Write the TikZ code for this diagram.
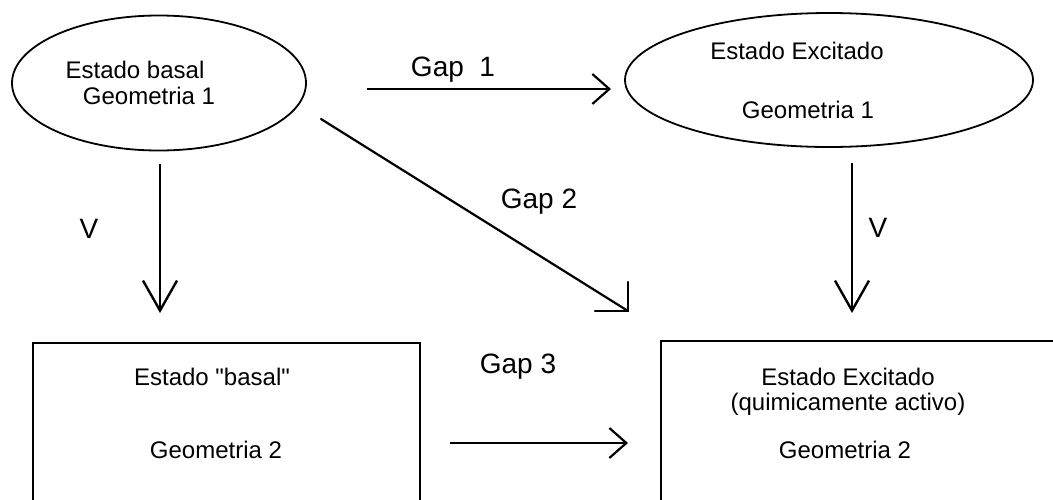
\documentclass[tikz,border=0pt]{standalone}
\usepackage{fontspec}
\setmainfont{Liberation Sans}
\newfontfamily\qfont{Liberation Sans}[Ligatures=ResetAll]
\usetikzlibrary{shapes.geometric,arrows.meta}
\begin{document}
\begin{tikzpicture}[x=1pt,y=-1pt,
  every node/.style={inner sep=0pt},
  body/.style={anchor=base,font=\fontsize{24}{28}\selectfont},
  biglbl/.style={anchor=base,font=\fontsize{28}{32}\selectfont},
  oval/.style={draw,ellipse,line width=1.8pt},
  frame/.style={draw,rectangle,line width=2.4pt,anchor=north west},
  arr/.style={line width=2.2pt,-{Straight Barb[length=17pt,width=30pt,line width=2.2pt]}},
  varr/.style={line width=2.2pt,-{Straight Barb[length=30pt,width=34pt,line width=2.4pt]}},
  plain/.style={line width=2.2pt,line cap=round}]
\useasboundingbox (0,0) rectangle (1053,499);
\clip (0,0) rectangle (1053,499);
\node[oval,minimum width=294pt,minimum height=135pt] (e1) at (159,83) {};
\node[oval,minimum width=408pt,minimum height=134pt] (e2) at (829,80) {};
\node[frame,minimum width=387pt,minimum height=200pt] (b1) at (32,342) {};
\node[frame,minimum width=440pt,minimum height=200pt] (b2) at (660,340) {};
% texts
\node[body] (t1) at (135,78) {Estado basal};
\node[body] (t2) at (149,104) {Geometria 1};
\node[body] (t3) at (797,59) {Estado Excitado};
\node[body] (t4) at (808,118) {Geometria 1};
\node[body] (t5) at (212,385) {Estado {\qfont "}basal{\qfont "}};
\node[body] (t6) at (216,458) {Geometria 2};
\node[body] (t7) at (848,385) {Estado Excitado};
\node[body] (t8) at (848,410) {(quimicamente activo)};
\node[body] (t9) at (845,458) {Geometria 2};
% labels
\node[biglbl] (g1) at (453,76) {Gap\ \ 1};
\node[biglbl] (g2) at (539,208) {Gap 2};
\node[biglbl] (g3) at (518,373) {Gap 3};
\node[biglbl] (v1) at (89,238) {V};
\node[biglbl] (v2) at (878,237) {V};
% connector end points
\coordinate (a1s) at (367,89);
\coordinate (a1e) at (611,89);
\coordinate (a2s) at (321,119);
\coordinate (a2e) at (628,311);
\coordinate (a3s) at (450,443);
\coordinate (a3e) at (628,443);
\coordinate (v1s) at (160,164);
\coordinate (v1e) at (160,313);
\coordinate (v2s) at (852,163);
\coordinate (v2e) at (852,313);
% connectors
\draw[arr] (a1s) -- (a1e);
\draw[arr] (a3s) -- (a3e);
\draw[varr] (v1s) -- (v1e);
\draw[varr] (v2s) -- (v2e);
\draw[plain] (a2s) -- (a2e);
\draw[plain] ([yshift=29pt]a2e) -- (a2e) -- ([xshift=-33pt]a2e);
\end{tikzpicture}
\end{document}
